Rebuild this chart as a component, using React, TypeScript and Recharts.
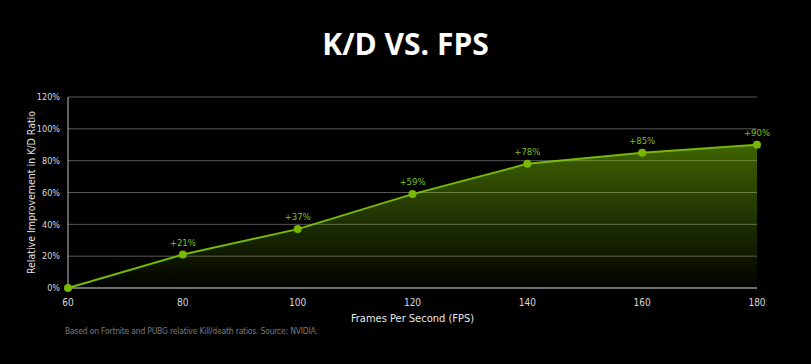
import { AreaChart, Area, XAxis, YAxis, CartesianGrid, LabelList, ReferenceLine } from 'recharts';

// Frames per second sampled in the study
const FPS = [60, 80, 100, 120, 140, 160, 180];
// Relative K/D improvement (%) over the 60 FPS baseline
const IMPROVEMENT = [0, 21, 37, 59, 78, 85, 90];
const X_TICKS = [60, 80, 100, 120, 140, 160, 180];
const Y_TICKS = [0, 20, 40, 60, 80, 100, 120];

const GREEN = '#76b900';
const LABEL_GREEN = '#7fbf1f';
const FONT = "'DejaVu Sans Condensed', 'DejaVu Sans', sans-serif";

const data = FPS.map((fps, i) => ({ fps, value: IMPROVEMENT[i] }));

const renderLabel = (props: any) => {
  const { x, y, value } = props;
  if (!value) return null;
  return (
    <text x={x} y={y - 9} textAnchor="middle" fill={LABEL_GREEN} fontSize={9.5} fontFamily={FONT}>
      {`+${value}%`}
    </text>
  );
};

export default function App() {
  return (
    <div style={{ position: 'absolute', left: 0, top: 0, width: 811, height: 364, background: '#000', fontFamily: "'Open Sans', sans-serif" }}>
      <div
        style={{
          position: 'absolute',
          left: 0,
          top: 24,
          width: 811,
          textAlign: 'center',
          color: '#fff',
          fontSize: 30,
          fontWeight: 700,
          lineHeight: '40px',
        }}
      >
        K/D VS. FPS
      </div>
      <div style={{ position: 'absolute', left: 0, top: 0 }}>
        <AreaChart width={811} height={364} data={data} margin={{ top: 97, right: 54, bottom: 46, left: 40 }}>
          <defs>
            <linearGradient id="kdFill" x1="0" y1="0" x2="0" y2="1">
              <stop offset="0%" stopColor={GREEN} stopOpacity={0.9} />
              <stop offset="100%" stopColor={GREEN} stopOpacity={0.02} />
            </linearGradient>
          </defs>
          <CartesianGrid vertical={false} stroke="#444444" strokeWidth={1} />
          <XAxis
            type="number"
            dataKey="fps"
            domain={[60, 180]}
            ticks={X_TICKS}
            tickLine={false}
            axisLine={{ stroke: '#bdbdbd', strokeWidth: 1 }}
            tick={{ fill: '#d8d8d8', fontSize: 10, fontFamily: FONT }}
            tickMargin={5}
            height={30}
            label={{ value: 'Frames Per Second (FPS)', position: 'insideBottom', offset: -4, fill: '#e8e8e8', fontSize: 11, fontFamily: FONT }}
          />
          <YAxis
            type="number"
            domain={[0, 120]}
            ticks={Y_TICKS}
            tickFormatter={(v: number) => `${v}%`}
            tickLine={false}
            axisLine={{ stroke: '#bdbdbd', strokeWidth: 1 }}
            tick={{ fill: '#d8d8d8', fontSize: 9, fontFamily: FONT }}
            tickMargin={2}
            width={28}
            label={{
              value: 'Relative Improvement in K/D Ratio',
              angle: -90,
              position: 'insideLeft',
              offset: -9,
              style: { textAnchor: 'middle' },
              fill: '#e0e0e0',
              fontSize: 10.5,
              fontFamily: FONT,
            }}
          />
          <Area
            type="linear"
            dataKey="value"
            stroke={GREEN}
            strokeWidth={2}
            fill="url(#kdFill)"
            dot={{ r: 4, fill: GREEN, stroke: GREEN, strokeWidth: 0, fillOpacity: 1 }}
            activeDot={false}
            isAnimationActive={false}
          >
            <LabelList dataKey="value" content={renderLabel} />
          </Area>
          {Y_TICKS.slice(1).map((t) => (
            <ReferenceLine key={t} y={t} stroke="#ffffff" strokeOpacity={0.1} ifOverflow="extendDomain" />
          ))}
        </AreaChart>
      </div>
      <div
        style={{
          position: 'absolute',
          left: 65,
          top: 326,
          color: '#7a7a7a',
          fontSize: 8.5,
          fontFamily: FONT,
          letterSpacing: -0.2,
        }}
      >
        Based on Fortnite and PUBG relative Kill/death ratios. Source: NVIDIA.
      </div>
    </div>
  );
}
